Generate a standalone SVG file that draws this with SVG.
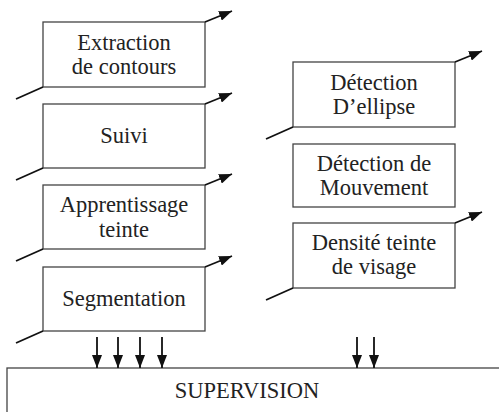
<svg xmlns="http://www.w3.org/2000/svg" width="499" height="412" viewBox="0 0 499 412">
<style>
.box{fill:#fff;stroke:#444;stroke-width:1.3}
.c{stroke:#111;stroke-width:1.8;fill:none}
</style>
<defs>
<marker id="ah" viewBox="0 0 13 10" refX="13" refY="5" markerWidth="13" markerHeight="10" markerUnits="userSpaceOnUse" orient="auto">
<path d="M0,0 L13,5 L0,10 Z" fill="#111"/>
</marker>
</defs>
<rect fill="#fff" width="499" height="412"/>
<g font-family="Liberation Serif, serif" font-size="22.5" fill="#222" text-anchor="middle">
<g id="n1"><rect class="box" x="43" y="22" width="162" height="65"/><text x="124" y="50">Extraction</text><text x="124" y="74">de contours</text></g>
<g id="n2"><rect class="box" x="43" y="104" width="162" height="64"/><text x="124" y="143">Suivi</text></g>
<g id="n3"><rect class="box" x="43" y="185" width="162" height="64"/><text x="124" y="212">Apprentissage</text><text x="124" y="237">teinte</text></g>
<g id="n4"><rect class="box" x="43" y="267" width="162" height="64"/><text x="124" y="306">Segmentation</text></g>
<g id="n5"><rect class="box" x="293" y="62" width="162" height="65"/><text x="374" y="90">Détection</text><text x="374" y="114">D’ellipse</text></g>
<g id="n6"><rect class="box" x="293" y="144" width="162" height="63"/><text x="374" y="171">Détection de</text><text x="374" y="195">Mouvement</text></g>
<g id="n7"><rect class="box" x="293" y="223" width="162" height="65"/><text x="374" y="250">Densité teinte</text><text x="374" y="274">de visage</text></g>
<g id="n8"><rect class="box" x="7" y="368" width="500" height="60"/><text x="247" y="398">SUPERVISION</text></g>
</g>
<g id="connectors">
<line class="c" x1="205" y1="22" x2="232" y2="11" marker-end="url(#ah)"/>
<line class="c" x1="205" y1="104" x2="232" y2="93" marker-end="url(#ah)"/>
<line class="c" x1="205" y1="185" x2="232" y2="174" marker-end="url(#ah)"/>
<line class="c" x1="205" y1="267" x2="232" y2="256" marker-end="url(#ah)"/>
<line class="c" x1="43" y1="87" x2="16" y2="99"/>
<line class="c" x1="43" y1="168" x2="16" y2="180"/>
<line class="c" x1="43" y1="249" x2="16" y2="261"/>
<line class="c" x1="43" y1="331" x2="16" y2="343"/>
<line class="c" x1="455" y1="62" x2="482" y2="51" marker-end="url(#ah)"/>
<line class="c" x1="455" y1="223" x2="482" y2="212" marker-end="url(#ah)"/>
<line class="c" x1="293" y1="127" x2="266" y2="139"/>
<line class="c" x1="293" y1="288" x2="266" y2="300"/>
<line class="c" x1="97" y1="337" x2="97" y2="368" marker-end="url(#ah)"/>
<line class="c" x1="118" y1="337" x2="118" y2="368" marker-end="url(#ah)"/>
<line class="c" x1="140" y1="337" x2="140" y2="368" marker-end="url(#ah)"/>
<line class="c" x1="162" y1="337" x2="162" y2="368" marker-end="url(#ah)"/>
<line class="c" x1="357" y1="337" x2="357" y2="368" marker-end="url(#ah)"/>
<line class="c" x1="374" y1="337" x2="374" y2="368" marker-end="url(#ah)"/>
</g>
</svg>
